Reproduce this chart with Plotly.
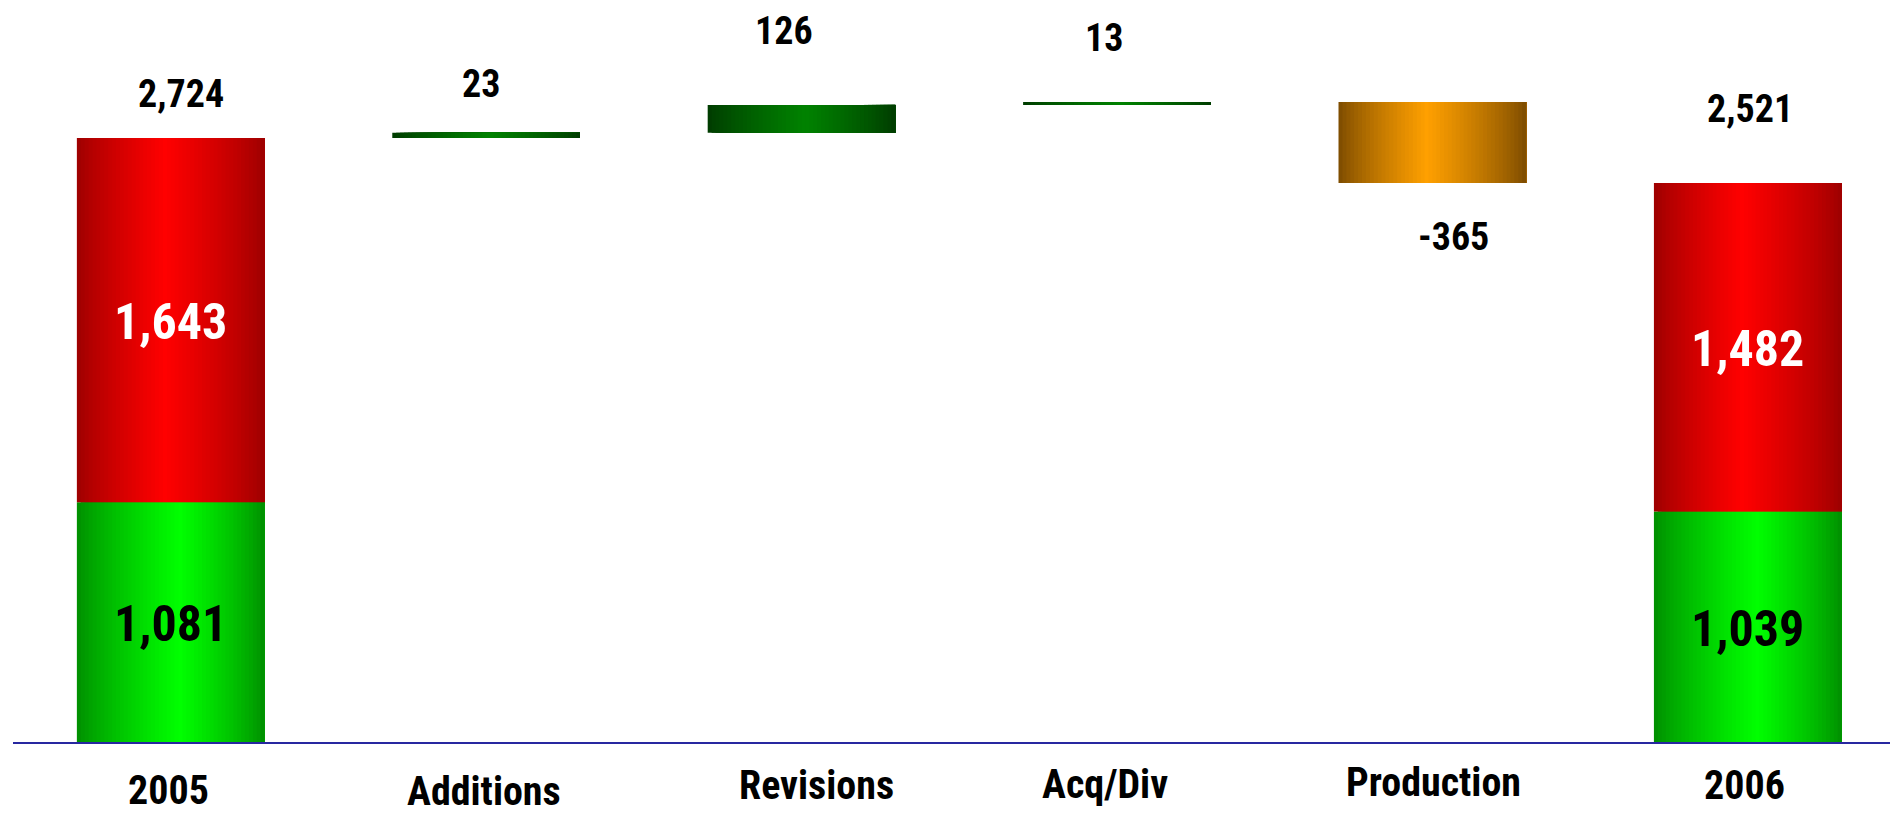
import plotly.graph_objects as go

# ---- data -------------------------------------------------------------
categories = ["2005", "Additions", "Revisions", "Acq/Div", "Production", "2006"]
start_developed = 1081
start_undeveloped = 1643
changes = [23, 126, 13, -365]          # Additions, Revisions, Acq/Div, Production
end_developed = 1039
end_undeveloped = 1482

start_total = start_developed + start_undeveloped
end_total = end_developed + end_undeveloped

# ---- styling ----------------------------------------------------------
FONT = "Roboto Condensed, Liberation Sans Narrow, DejaVu Sans Condensed, sans-serif"
BAR_W = 0.595
N_SLICES = 48

# (edge colour, peak colour, peak position across the bar)
PALETTES = {
    "red":    ((155, 0, 0), (255, 0, 0), 0.47),
    "lime":   ((0, 140, 0), (0, 255, 0), 0.55),
    "dgreen": ((0, 58, 0), (0, 130, 0), 0.52),
    "orange": ((122, 74, 0), (255, 160, 0), 0.47),
}


def shade(name, t):
    edge, peak, p = PALETTES[name]
    f = 1 - (p - t) / p if t <= p else 1 - (t - p) / (1 - p)
    f = max(0.0, min(1.0, f)) ** 0.8
    return "rgb({},{},{})".format(*[round(e + (k - e) * f) for e, k in zip(edge, peak)])


# ---- segments built from the data ---------------------------------------
seg_x, seg_base, seg_h, seg_pal = [], [], [], []


def add(idx, base, h, pal):
    seg_x.append(idx)
    seg_base.append(base)
    seg_h.append(h)
    seg_pal.append(pal)


add(0, 0, start_developed, "lime")
add(0, start_developed, start_undeveloped, "red")
running = start_total
step_tops = []
for k, ch in enumerate(changes, start=1):
    add(k, running, ch, "dgreen" if ch >= 0 else "orange")
    step_tops.append(running + ch)
    running += ch
add(5, 0, end_developed, "lime")
add(5, end_developed, end_undeveloped, "red")

fig = go.Figure()

# each slice runs from its left edge to the bar's right edge, so later
# slices paint over the remainder and leave no seams
dw = BAR_W / N_SLICES
for i in range(N_SLICES):
    t = (i + 0.5) / N_SLICES
    fig.add_trace(go.Bar(
        x=seg_x,
        y=seg_h,
        base=seg_base,
        offset=-BAR_W / 2 + i * dw,
        width=BAR_W - i * dw,
        marker=dict(color=[shade(p, t) for p in seg_pal], line=dict(width=0)),
        hoverinfo="skip",
        showlegend=False,
    ))

annotations = []

# values inside the stacked end bars
inner = [
    (0, 0, start_developed, "black"),
    (0, start_developed, start_undeveloped, "white"),
    (5, 0, end_developed, "black"),
    (5, end_developed, end_undeveloped, "white"),
]
for idx, base, h, col in inner:
    annotations.append(dict(
        x=idx, y=base + h / 2, xref="x", yref="y", text=f"{h:,}",
        showarrow=False, font=dict(family=FONT, size=50, color=col, weight="bold"),
        yanchor="middle", xanchor="center", yshift=-2,
    ))

# labels above / below the bars, anchored at each bar's outer edge
values = [start_total] + changes + [end_total]
anchors = [start_total] + [max(s, s - c) for s, c in zip(step_tops, changes)] + [end_total]
anchors[4] = step_tops[3]          # the drop is labelled under its lower edge
shift_x = [10, -5, -18, -13, 21, 2]
shift_y = [44, 49, 74, 64, -54, 74]
for idx, (v, y, dx, dy) in enumerate(zip(values, anchors, shift_x, shift_y)):
    annotations.append(dict(
        x=idx, y=y, xref="x", yref="y", text=f"{v:,}",
        showarrow=False, font=dict(family=FONT, size=38, color="black", weight="bold"),
        yanchor="middle", xanchor="center", xshift=dx, yshift=dy,
    ))

# category names under the axis line
cat_shift_x = [-2, -2, 15, -12, 1, -3]
cat_shift_y = [-48, -49, -43, -42, -40, -43]
for idx, (cat, dx, dy) in enumerate(zip(categories, cat_shift_x, cat_shift_y)):
    annotations.append(dict(
        x=idx, y=0, xref="x", yref="paper", text=cat,
        showarrow=False, font=dict(family=FONT, size=40, color="black", weight="bold"),
        yanchor="middle", xanchor="center", xshift=dx, yshift=dy, borderpad=0,
    ))

fig.update_layout(
    width=1890, height=816,
    margin=dict(l=13, r=0, t=0, b=74),
    barmode="overlay",
    paper_bgcolor="white",
    plot_bgcolor="white",
    annotations=annotations,
    xaxis=dict(
        tickmode="array", tickvals=list(range(len(categories))), ticktext=categories,
        range=[-0.5, 5.451], showticklabels=False, showgrid=False,
        zeroline=False, showline=True, linecolor="#2828a0", linewidth=2,
        ticks="", fixedrange=True,
    ),
    yaxis=dict(
        range=[0, 3346], visible=False, showgrid=False, zeroline=False,
        fixedrange=True,
    ),
)

fig.write_html("out.html", config={"displayModeBar": False})
